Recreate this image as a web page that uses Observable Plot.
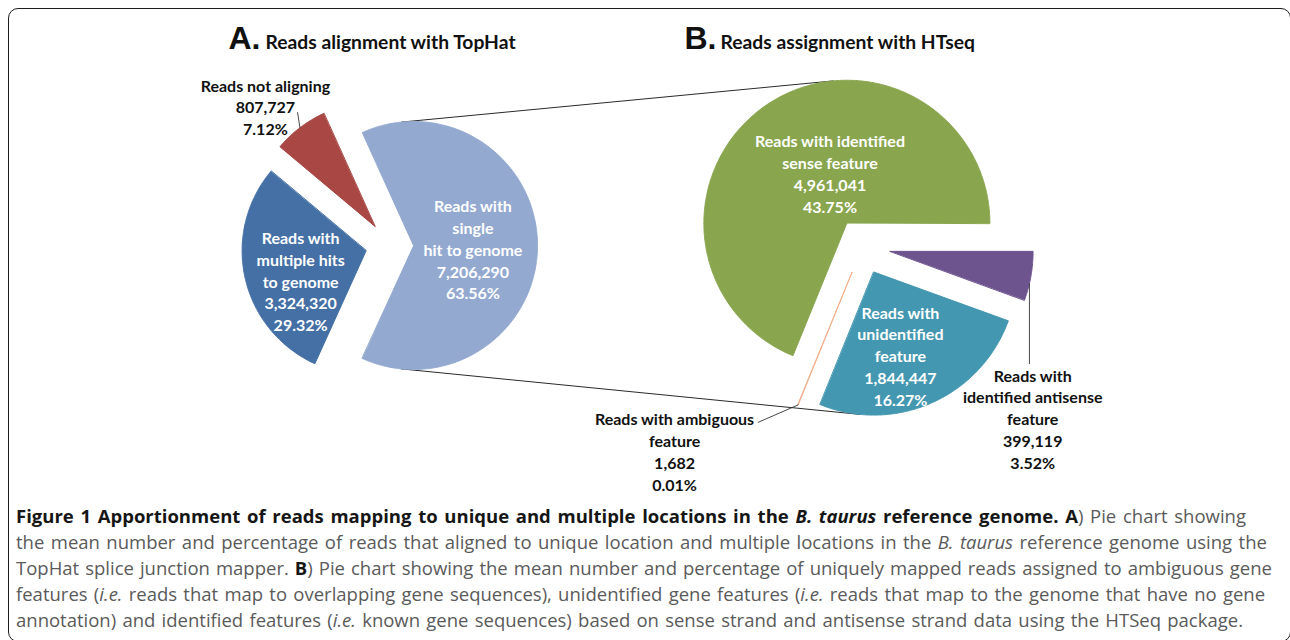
<!DOCTYPE html>
<html>
<head>
<meta charset="utf-8">
<script src="https://cdn.jsdelivr.net/npm/d3@7"></script>
<script src="https://cdn.jsdelivr.net/npm/@observablehq/plot@0.6"></script>
<style>
  html, body { margin: 0; padding: 0; background: #fff; }
  #page { position: relative; width: 1290px; height: 640px; overflow: hidden; background: #fff; }
  #chart { position: absolute; left: 0; top: 0; }
  #frame { position: absolute; left: 8px; top: 8px; width: 1283px; height: 634px; box-sizing: border-box;
           border: 1.5px solid #1c1c1c; border-radius: 10px; pointer-events: none; }
  #caption { position: absolute; left: 16px; top: 503px; font-family: "Open Sans", sans-serif; font-size: 18.5px;
             line-height: 26px; color: #5a5a5a; }
  #caption .ln { display: block; white-space: nowrap; width: max-content; }
  #caption b { color: #161616; font-weight: 700; }
</style>
</head>
<body>
<div id="page">
  <div id="chart"></div>
  <div id="caption"></div>
  <div id="frame"></div>
</div>
<script>
// ---------------- DATA ----------------
const pieACategories = ["Reads with single hit to genome", "Reads with multiple hits to genome", "Reads not aligning"];
const pieALabelText = ["Reads with\nsingle\nhit to genome", "Reads with\nmultiple hits\nto genome", "Reads not aligning"];
const pieAValues = [7206290, 3324320, 807727];
const pieAPercents = ["63.56%", "29.32%", "7.12%"];

const pieBCategories = ["Reads with identified antisense feature", "Reads with unidentified feature", "Reads with ambiguous feature", "Reads with identified sense feature"];
const pieBLabelText = ["Reads with\nidentified antisense\nfeature", "Reads with\nunidentified\nfeature", "Reads with ambiguous\nfeature", "Reads with identified\nsense feature"];
const pieBValues = [399119, 1844447, 1682, 4961041];
const pieBPercents = ["3.52%", "16.27%", "0.01%", "43.75%"];

const titleLetters = ["A.", "B."];
const titleTexts = ["Reads alignment with TopHat", "Reads assignment with HTseq"];

const captionLines = [
  '<b>Figure 1 Apportionment of reads mapping to unique and multiple locations in the <i>B. taurus</i> reference genome. A</b>) Pie chart showing',
  'the mean number and percentage of reads that aligned to unique location and multiple locations in the <i>B. taurus</i> reference genome using the',
  'TopHat splice junction mapper. <b>B</b>) Pie chart showing the mean number and percentage of uniquely mapped reads assigned to ambiguous gene',
  'features (<i>i.e.</i> reads that map to overlapping gene sequences), unidentified gene features (<i>i.e.</i> reads that map to the genome that have no gene',
  'annotation) and identified features (<i>i.e.</i> known gene sequences) based on sense strand and antisense strand data using the HTSeq package.'
];

// ---------------- STYLE / LAYOUT ----------------
const pieAColors = ["#93A9D0", "#4470A5", "#A84743"];
const pieBColors = ["#6E548E", "#4397B0", "#F2B08C", "#89A64E"];
const pieALabelInside = [true, true, false];
const pieBLabelInside = [false, true, false, true];

const layoutA = {cx: 389, cy: 245, r: 124, explode: 24};
const layoutB = {cx: 862, cy: 246, r: 143, explode: 28, start: 90};
const labelPosA = [{k: 0.48, dt: 3.4}, {k: 0.58, dt: -11.6}, {k: 1.31, dt: -5.2}];
const labelPosB = [{k: 1.535, dt: 39.5}, {k: 0.61, dt: 6.3}, {k: 1.76, dt: 22.7}, {k: 0.37, dt: 15.3}];
const titleLayout = [{xBig: 228, xText: 265, y: 48}, {xBig: 684, xText: 720, y: 48}];
const captionTargets = [1230, 1251, 1256, 1249, 1227];

const W = 1290, H = 495;
const LABEL_FS = 16, LABEL_LH = 1.36;
const fmt = d3.format(",");
const rad = d => d * Math.PI / 180;

function buildPie(values, colors, L, startAngle, labels, percents, inside, pos, pie) {
  const total = d3.sum(values);
  let a = startAngle;
  return values.map((v, i) => {
    const span = v / total * 360;
    const a0 = a, a1 = a + span; a += span;
    const mid = (a0 + a1) / 2;
    const ax = L.cx + L.explode * Math.sin(rad(mid));
    const ay = L.cy - L.explode * Math.cos(rad(mid));
    return {pie, i, v, a0, a1, mid, ax, ay, r: L.r, color: colors[i],
            label: labels[i] + "\n" + fmt(v) + "\n" + percents[i], inside: inside[i], pos: pos[i]};
  });
}
function pt(s, k, deg) {
  return [s.ax + k * s.r * Math.sin(rad(deg)), s.ay - k * s.r * Math.cos(rad(deg))];
}
const totalA = d3.sum(pieAValues);
const startA = 90 - (pieAValues[0] / totalA) * 180;
const slicesA = buildPie(pieAValues, pieAColors, layoutA, startA, pieALabelText, pieAPercents, pieALabelInside, labelPosA, "A");
const slicesB = buildPie(pieBValues, pieBColors, layoutB, layoutB.start, pieBLabelText, pieBPercents, pieBLabelInside, labelPosB, "B");
const slices = slicesA.concat(slicesB);

// slice outlines
const polyPts = [];
for (const s of slices) {
  const id = s.pie + s.i;
  polyPts.push({id, color: s.color, x: s.ax, y: s.ay});
  const n = Math.max(2, Math.ceil((s.a1 - s.a0) / 0.5));
  for (let j = 0; j <= n; j++) {
    const [x, y] = pt(s, 1, s.a0 + (s.a1 - s.a0) * j / n);
    polyPts.push({id, color: s.color, x, y});
  }
}

// labels
const labels = slices.map(s => {
  const [x, y] = pt(s, s.pos.k, s.mid + s.pos.dt);
  return {x, y, text: s.label, fill: s.inside ? "#ffffff" : "#111111"};
});

// connector tangents between the secondary slice of A and slices of B
function tangent(c1, r1, c2, r2, side) {
  const dx = c2[0] - c1[0], dy = c2[1] - c1[1], L = Math.hypot(dx, dy);
  const phi = Math.atan2(dy, dx), a = Math.acos((r1 - r2) / L);
  let al = phi + a;
  if (Math.sign(Math.sin(al)) !== side) al = phi - a;
  const n = [Math.cos(al), Math.sin(al)];
  return [[c1[0] + r1 * n[0], c1[1] + r1 * n[1]], [c2[0] + r2 * n[0], c2[1] + r2 * n[1]]];
}
const sA = slicesA[0], sGreen = slicesB[3], sTeal = slicesB[1];
const topT = tangent([sA.ax, sA.ay], sA.r, [sGreen.ax, sGreen.ay], sGreen.r, -1);
const botT = tangent([sA.ax, sA.ay], sA.r, [sTeal.ax, sTeal.ay], sTeal.r, 1);
const connectors = [
  {id: "t", x: topT[0][0], y: topT[0][1]}, {id: "t", x: topT[1][0], y: topT[1][1]},
  {id: "b", x: botT[0][0], y: botT[0][1]}, {id: "b", x: botT[1][0], y: botT[1][1]}
];

// leader lines
const red = slicesA[2], purple = slicesB[0], amb = slicesB[2];
const purpleStart = pt(purple, 1, purple.mid + 3);
const purpleLabel = labels[slicesA.length + 0];
const leaders = [
  {id: "r", p: pt(red, 1, red.mid)}, {id: "r", p: pt(red, 1.11, red.mid + 3)},
  {id: "p", p: purpleStart}, {id: "p", p: [purpleStart[0], purpleLabel.y - 2 * LABEL_FS * LABEL_LH - 11]},
  {id: "a", p: pt(amb, 1, amb.mid)}, {id: "a", p: pt(amb, 1.236, amb.mid + 9.9)}
].map(d => ({id: d.id, x: d.p[0], y: d.p[1]}));

const titleData = titleLetters.map((t, i) => ({big: t, text: titleTexts[i], ...titleLayout[i]}));

const chart = Plot.plot({
  width: W, height: H, margin: 0,
  x: {domain: [0, W], range: [0, W], axis: null},
  y: {domain: [0, H], range: [0, H], axis: null},
  color: {type: "identity"},
  style: {background: "transparent", overflow: "visible"},
  marks: [
    Plot.line(connectors, {x: "x", y: "y", z: "id", stroke: "#2a2a2a", strokeWidth: 1}),
    Plot.line(polyPts, {x: "x", y: "y", z: "id", fill: "color", stroke: "color", strokeWidth: 1, curve: "linear-closed"}),
    Plot.line(leaders, {x: "x", y: "y", z: "id", stroke: "#333", strokeWidth: 0.9}),
    Plot.text(labels, {x: "x", y: "y", text: "text", fill: "fill", fontSize: LABEL_FS, fontWeight: 700,
      fontFamily: "Lato, 'Open Sans', sans-serif", lineHeight: LABEL_LH, lineAnchor: "middle", textAnchor: "middle"}),
    Plot.text(titleData, {x: "xBig", y: "y", text: "big", fill: "#111", fontSize: 32, fontWeight: 700,
      fontFamily: "'Liberation Sans', Arial, sans-serif", lineAnchor: "bottom", textAnchor: "start"}),
    Plot.text(titleData, {x: "xText", y: "y", text: "text", fill: "#111", fontSize: 19.3, fontWeight: 700,
      fontFamily: "Lato, sans-serif", lineAnchor: "bottom", textAnchor: "start"})
  ]
});
document.getElementById("chart").appendChild(chart);

// caption
const cap = document.getElementById("caption");
captionLines.forEach((html, i) => {
  const s = document.createElement("span");
  s.className = "ln";
  s.innerHTML = html;
  cap.appendChild(s);
});
document.fonts.ready.then(() => {
  cap.querySelectorAll(".ln").forEach((s, i) => {
    const w = s.getBoundingClientRect().width;
    const spaces = (s.textContent.match(/ /g) || []).length;
    if (spaces) s.style.wordSpacing = ((captionTargets[i] - w) / spaces).toFixed(2) + "px";
  });
});
</script>
</body>
</html>
